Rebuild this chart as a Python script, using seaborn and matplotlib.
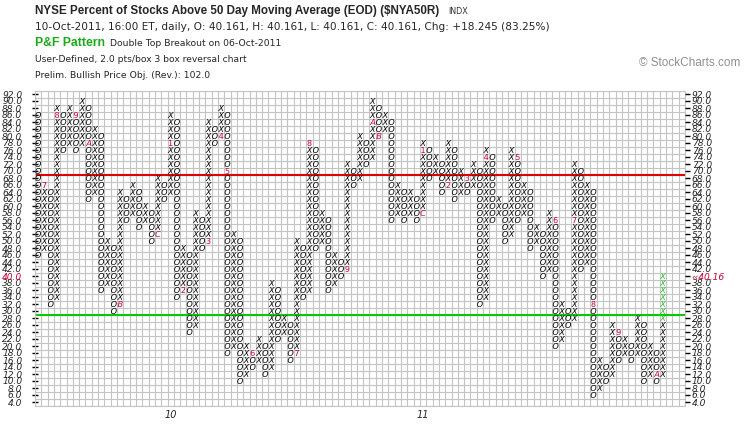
import matplotlib
matplotlib.use('Agg')
import matplotlib.pyplot as plt
import pandas as pd
import numpy as np
import seaborn as sns

# Colunas do gráfico P&F (caixa de 2 pontos, reversão de 3 caixas)
col_kind = list('OX' * 50)
col_high = [86, 66, 64, 88, 86, 88, 86, 90, 88, 82, 80, 50, 48, 64, 62, 66, 64, 60, 58, 68,
            66, 86, 84, 48, 46, 58, 56, 84, 82, 88, 86, 52, 50, 20, 18, 22, 20, 38, 36, 28,
            26, 50, 48, 78, 76, 58, 56, 46, 44, 72, 70, 80, 78, 90, 88, 86, 84, 66, 64, 64,
            62, 78, 76, 74, 72, 78, 76, 70, 68, 72, 70, 76, 74, 62, 60, 76, 74, 66, 64, 54,
            52, 58, 56, 32, 30, 72, 70, 66, 64, 16, 14, 26, 24, 22, 20, 28, 26, 20, 18, 40]
col_low = [46, 48, 32, 34, 76, 78, 76, 78, 62, 64, 36, 38, 30, 32, 56, 58, 54, 56, 50, 52,
           62, 64, 34, 36, 24, 26, 48, 50, 78, 80, 18, 20, 10, 12, 14, 16, 12, 14, 22, 24,
           16, 18, 34, 36, 48, 50, 36, 38, 40, 42, 66, 68, 72, 74, 80, 82, 56, 58, 56, 58,
           56, 58, 68, 70, 64, 66, 62, 64, 64, 66, 32, 34, 56, 58, 50, 52, 56, 58, 48, 50,
           40, 42, 20, 22, 26, 28, 42, 44, 6, 8, 10, 12, 16, 18, 16, 18, 10, 12, 10, 12]

# Marcadores de mês (1-9, A=out, B=nov, C=dez)
mark_col = [1, 3, 6, 8, 13, 19, 21, 23, 27, 29, 30, 34, 41, 43, 49, 53, 54, 61, 61, 65,
            68, 71, 76, 82, 85, 88, 92, 98]
mark_price = [66, 86, 86, 78, 32, 52, 78, 36, 50, 80, 70, 18, 18, 78, 42, 84, 80, 58, 76, 66,
              68, 74, 74, 56, 56, 32, 24, 12]
mark_label = ['7', '8', '9', 'A', 'B', 'C', '1', '2', '3', '4', '5', '6', '7', '8', '9', 'A',
              'B', 'C', '1', '2', '3', '4', '5', '6', '7', '8', '9', 'A']

# Caixas recentes (em verde) na última coluna
recent_col = 99
recent_low = 28

year_cols = [21, 61]
year_labels = ['10', '11']
last_value = '40.16'
red_level = 70
green_level = 30
box_size = 2
rows = np.arange(4, 93, box_size)

#%% Monta a tabela de caixas
marks = {(c, p): l for c, p, l in zip(mark_col, mark_price, mark_label)}
recs = []
for i, (k, hi, lo) in enumerate(zip(col_kind, col_high, col_low)):
    for p in range(lo, hi + 1, box_size):
        if (i, p) in marks:
            recs.append((i, p, marks[(i, p)], 'month'))
        elif i == recent_col and p >= recent_low:
            recs.append((i, p, k, 'recent'))
        else:
            recs.append((i, p, k, 'box'))
boxes = pd.DataFrame(recs, columns=['col', 'price', 'sym', 'kind'])

markers = {s: r'$\mathit{%s}$' % s for s in boxes['sym'].unique()}
palette = {'box': 'black', 'month': '#cc0033', 'recent': '#22bb22'}

#%% Figura
sns.set_style('white')
plt.rcParams['font.family'] = ['DejaVu Sans']
plt.rcParams['mathtext.fontset'] = 'dejavusans'

W, H = 745, 426
fig = plt.figure(figsize=(W / 100, H / 100), dpi=100)
ax = fig.add_axes([35 / W, (H - 405.5) / H, 650 / W, 315 / H])

sns.scatterplot(data=boxes, x='col', y='price', style='sym', markers=markers,
                hue='kind', palette=palette, s=19, linewidth=0, legend=False,
                ax=ax, zorder=3)

ax.set_xlim(-0.5, 102.5)
ax.set_ylim(rows[0] - box_size / 2, rows[-1] + box_size / 2)
ax.set_xlabel('')
ax.set_ylabel('')

# grade
ax.set_xticks(np.arange(-0.5, 103, 1), minor=True)
ax.set_yticks(np.arange(rows[0] - 1, rows[-1] + 2, box_size), minor=True)
ax.grid(which='minor', color='#c4c4c4', lw=0.8)
ax.grid(which='major', visible=False)
ax.tick_params(which='minor', length=0)
ax.set_axisbelow(True)
for sp in ax.spines.values():
    sp.set_color('#c4c4c4')
    sp.set_linewidth(0.8)

ax.axhline(red_level - box_size / 2, color='#e00000', lw=1.5, zorder=2)
ax.axhline(green_level - box_size / 2, color='#00cc00', lw=1.5, zorder=2)

# eixo y esquerdo
left_labels = [f'{v:.1f}' for v in rows]
ax.set_yticks(rows, left_labels)
ax.tick_params(axis='y', which='major', direction='inout', length=4.3, width=1.0,
               color='black', pad=7, labelsize=6.6)
for lbl, v in zip(ax.get_yticklabels(), rows):
    lbl.set_fontstyle('italic')
    if v == 40:
        lbl.set_color('#cc0033')

# eixo x
ax.set_xticks(year_cols, year_labels)
ax.tick_params(axis='x', which='major', direction='out', length=2.5, width=0.8,
               color='#999999', pad=1, labelsize=7)
for lbl in ax.get_xticklabels():
    lbl.set_fontstyle('italic')

# eixo y direito
ax2 = ax.twinx()
ax2.set_ylim(ax.get_ylim())
right_labels = ['\u2039\u2039' + last_value if v == 40 else f'{v:.1f}' for v in rows]
ax2.set_yticks(rows, right_labels)
ax2.tick_params(axis='y', direction='out', length=3.6, width=1.0, color='black',
                pad=1.2, labelsize=6.6)
for lbl, v in zip(ax2.get_yticklabels(), rows):
    lbl.set_fontstyle('italic')
    if v == 40:
        lbl.set_color('#cc0033')
for sp in ax2.spines.values():
    sp.set_visible(False)

#%% Cabeçalho
def fx(x):
    return x / W

def fy(y):
    return 1 - y / H

fig.text(fx(35), fy(11), r'NYSE Percent of Stocks Above 50 Day Moving Average (EOD) (\$NYA50R)',
         fontsize=8.4, weight='bold', family='Liberation Sans', va='center')
fig.text(fx(448), fy(11), 'INDX', fontsize=5.8, va='center', color='#333333')
fig.text(fx(35), fy(27), '10-Oct-2011, 16:00 ET, daily, O: 40.161, H: 40.161, L: 40.161, '
         'C: 40.161, Chg: +18.245 (83.25%)', fontsize=7.6, va='center')
fig.text(fx(35), fy(43), 'P&F Pattern', fontsize=8.8, weight='bold',
         family='Liberation Sans', color='#1aaa1a', va='center')
fig.text(fx(110), fy(44), 'Double Top Breakout on 06-Oct-2011', fontsize=6.7, va='center')
fig.text(fx(35), fy(59), 'User-Defined, 2.0 pts/box 3 box reversal chart', fontsize=6.6,
         va='center')
fig.text(fx(35), fy(75), 'Prelim. Bullish Price Obj. (Rev.): 102.0', fontsize=6.7,
         va='center')
fig.text(fx(740), fy(63), '\u00a9 StockCharts.com', fontsize=8.5, family='Liberation Sans',
         color='#909090', ha='right', va='center')

fig.savefig('out.png', dpi=100)
